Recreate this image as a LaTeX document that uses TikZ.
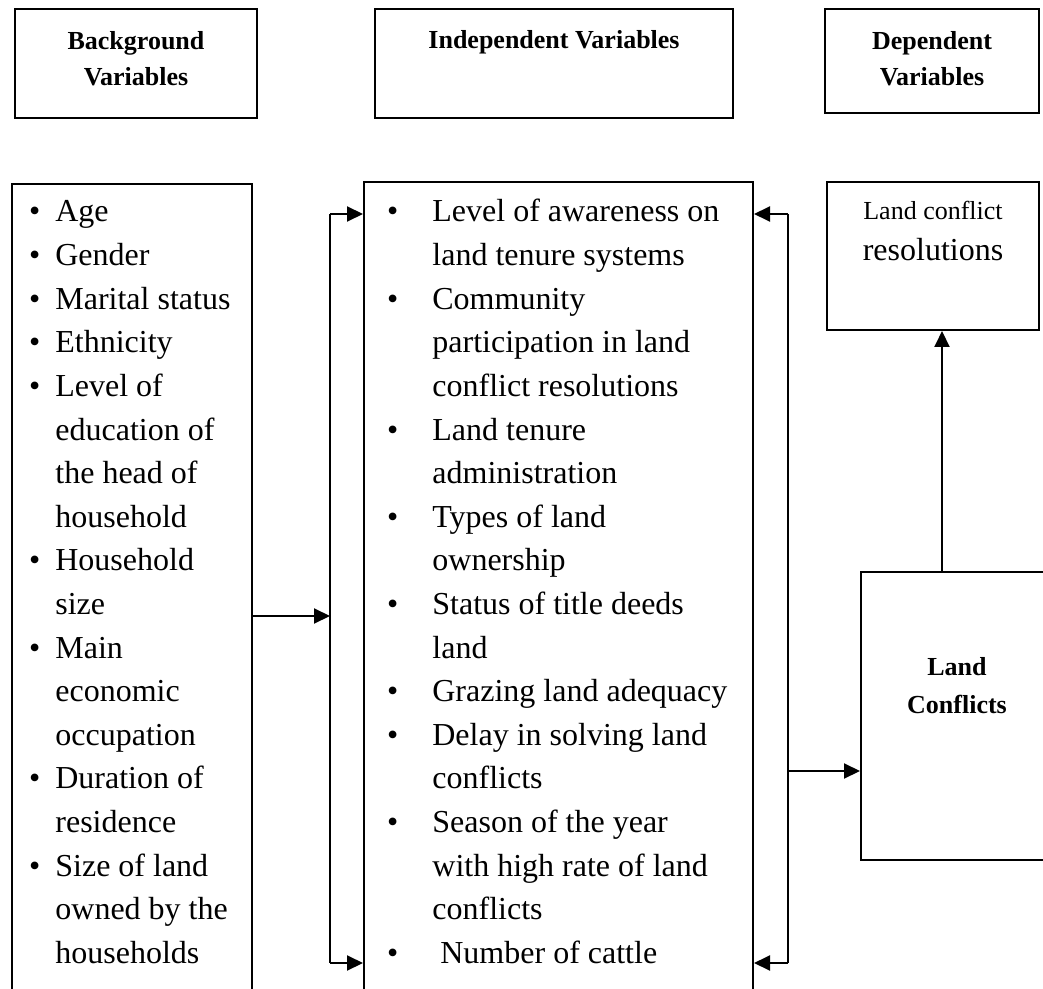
\documentclass[tikz,border=0pt]{standalone}
\usepackage{fontspec}
\setmainfont{Liberation Serif}
\usetikzlibrary{arrows.meta,fit}
\newcommand{\lbul}{\llap{\textbullet\hspace{7.5pt}}}
\newcommand{\mbul}{\llap{\textbullet\hspace{17pt}}}
\begin{document}
\begin{tikzpicture}[x=0.5pt,y=-0.5pt,
  box/.style={draw, line width=1pt, inner sep=0pt},
  hdr/.style={font=\fontsize{13}{16}\selectfont\bfseries, align=center, inner sep=0pt},
  txt/.style={font=\fontsize{13}{16}\selectfont, align=center, inner sep=0pt},
  txtb/.style={font=\fontsize{16}{20}\selectfont, align=center, inner sep=0pt},
  item/.style={font=\fontsize{16}{20}\selectfont, anchor=base west, inner sep=0pt},
  arr/.style={-{Triangle[length=8pt,width=7.5pt]}, line width=1pt},
  ln/.style={line width=1pt}]
\useasboundingbox (0,0) rectangle (1043,989);
\clip (0,0) rectangle (1043,989);
% header boxes
\node[box, fit={(15,9) (257,118)}] (bgbox) {};
\node[box, fit={(375,9) (733,118)}] (indbox) {};
\node[box, fit={(825,9) (1039,113)}] (depbox) {};
\node[hdr] (bgtxt) at (136,59) {Background\\[2pt]Variables};
\node[hdr] (indtxt) at (554,42) {Independent Variables};
\node[hdr] (deptxt) at (932,59) {Dependent\\[2pt]Variables};
% main boxes
\node[box, fit={(12,184) (252,1100)}] (left) {};
\node[box, fit={(364,182) (753,1100)}] (mid) {};
\node[box, fit={(827,182) (1039,330)}] (res) {};
\node[box, fit={(861,572) (1060,860)}] (lc) {};
\node[txt] (restxt1) at (933,210) {Land conflict};
\node[txtb] (restxt2) at (933,250) {resolutions};
\node[hdr] (lctxt) at (957,686) {Land\\[3pt]Conflicts};
% left list
\foreach \t [count=\i] in {\lbul Age,\lbul Gender,\lbul Marital status,\lbul Ethnicity,\lbul Level of,education of,the head of,household,\lbul Household,size,\lbul Main,economic,occupation,\lbul Duration of,residence,\lbul Size of land,owned by the,households}
  \node[item] (L\i) at (55,{222+(\i-1)*43.6}) {\t};
% middle list
\foreach \t [count=\i] in {\mbul Level of awareness on,land tenure systems,\mbul Community,participation in land,conflict resolutions,\mbul Land tenure,administration,\mbul Types of land,ownership,\mbul Status of title deeds,land,\mbul Grazing land adequacy,\mbul Delay in solving land,conflicts,\mbul Season of the year,with high rate of land,conflicts,\mbul\ Number of cattle}
  \node[item] (M\i) at (432,{222+(\i-1)*43.6}) {\t};
% connector coordinates
\coordinate (bl1) at (330,214);
\coordinate (bl2) at (330,963);
\coordinate (br1) at (788,214);
\coordinate (br2) at (788,963);
\coordinate (bm) at (330,616);
\coordinate (brm) at (788,771);
% connectors
\draw[ln] (bl1) -- (bl2);
\draw[arr] (bl1) -- (bl1 -| mid.west);
\draw[arr] (bl2) -- (bl2 -| mid.west);
\draw[arr] (bm -| left.east) -- (bm);
\draw[ln] (br1) -- (br2);
\draw[arr] (br1) -- (br1 -| mid.east);
\draw[arr] (br2) -- (br2 -| mid.east);
\draw[arr] (brm) -- (brm -| lc.west);
\draw[arr] (lc.north -| 942,0) -- (res.south -| 942,0);
\end{tikzpicture}
\end{document}
